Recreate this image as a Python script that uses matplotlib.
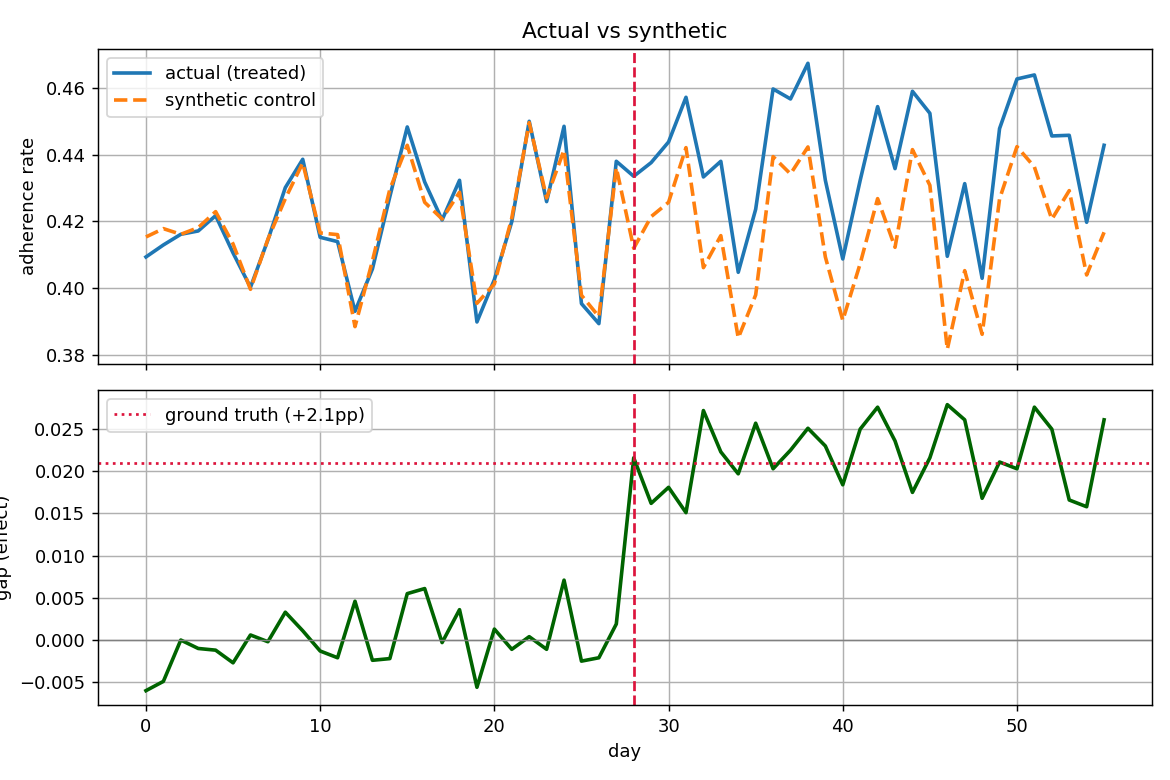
import matplotlib
matplotlib.use("Agg")
import matplotlib.pyplot as plt
import numpy as np

days = list(range(56))
actual = [0.4093, 0.4129, 0.4161, 0.4171, 0.4217, 0.4105, 0.4002, 0.4144, 0.4301, 0.4386,
          0.4152, 0.4139, 0.3930, 0.4057, 0.4274, 0.4483, 0.4318, 0.4204, 0.4323, 0.3898,
          0.4025, 0.4199, 0.4500, 0.4259, 0.4485, 0.3953, 0.3893, 0.4380, 0.4335, 0.4376,
          0.4438, 0.4572, 0.4333, 0.4380, 0.4047, 0.4236, 0.4597, 0.4567, 0.4674, 0.4323,
          0.4087, 0.4323, 0.4544, 0.4358, 0.4590, 0.4524, 0.4095, 0.4313, 0.4029, 0.4478,
          0.4627, 0.4639, 0.4456, 0.4458, 0.4197, 0.4428]
synthetic = [0.4153, 0.4178, 0.4161, 0.4181, 0.4229, 0.4132, 0.3996, 0.4146, 0.4268, 0.4375,
             0.4165, 0.4160, 0.3884, 0.4081, 0.4296, 0.4428, 0.4257, 0.4207, 0.4287, 0.3954,
             0.4012, 0.4210, 0.4496, 0.4270, 0.4414, 0.3978, 0.3914, 0.4361, 0.4119, 0.4214,
             0.4257, 0.4421, 0.4061, 0.4157, 0.3850, 0.3979, 0.4394, 0.4342, 0.4423, 0.4093,
             0.3903, 0.4073, 0.4268, 0.4122, 0.4415, 0.4308, 0.3816, 0.4052, 0.3861, 0.4267,
             0.4424, 0.4363, 0.4206, 0.4292, 0.4039, 0.4167]
gap = [-0.0060, -0.0049, 0.0000, -0.0010, -0.0012, -0.0027, 0.0006, -0.0002, 0.0033, 0.0011,
       -0.0013, -0.0021, 0.0046, -0.0024, -0.0022, 0.0055, 0.0061, -0.0003, 0.0036, -0.0056,
       0.0013, -0.0011, 0.0004, -0.0011, 0.0071, -0.0025, -0.0021, 0.0019, 0.0216, 0.0162,
       0.0181, 0.0151, 0.0272, 0.0223, 0.0197, 0.0257, 0.0203, 0.0225, 0.0251, 0.0230,
       0.0184, 0.0250, 0.0276, 0.0236, 0.0175, 0.0216, 0.0279, 0.0261, 0.0168, 0.0211,
       0.0203, 0.0276, 0.0250, 0.0166, 0.0158, 0.0261]
treat_day = 28
true_effect = 0.021

fig, (ax1, ax2) = plt.subplots(2, 1, figsize=(9, 6), dpi=130, sharex=True)
fig.subplots_adjust(left=0.0838, right=0.9846, top=0.9372, bottom=0.0962, hspace=0.085)

ax1.plot(days, actual, color="#1f77b4", lw=2, label="actual (treated)")
ax1.plot(days, synthetic, color="#ff7f0e", lw=2, ls="--", label="synthetic control")
ax1.axvline(treat_day, color="crimson", ls="--", lw=1.5)
ax1.set_ylabel("adherence rate")
ax1.set_title("Actual vs synthetic")
ax1.grid(True)
ax1.legend(loc="upper left")

ax2.plot(days, gap, color="darkgreen", lw=2)
ax2.axhline(0, color="gray", lw=0.8)
ax2.axhline(true_effect, color="crimson", ls=":", lw=1.5, label="ground truth (+2.1pp)")
ax2.axvline(treat_day, color="crimson", ls="--", lw=1.5)
ax2.set_ylabel("gap (effect)")
ax2.set_xlabel("day")
ax2.grid(True)
ax2.legend(loc="upper left")

fig.savefig("out.png")
